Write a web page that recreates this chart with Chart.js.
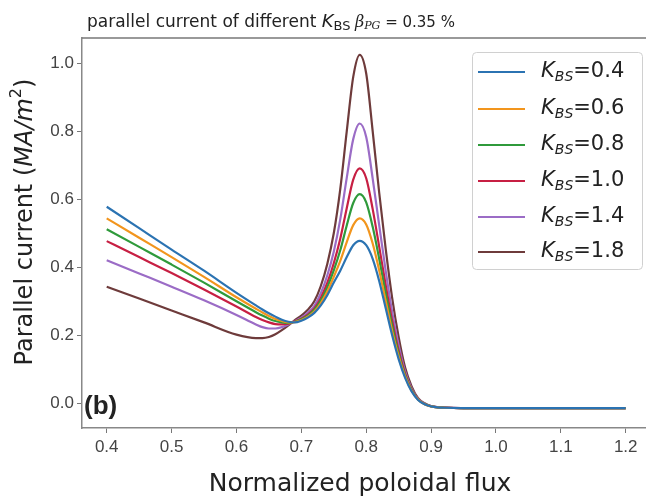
<!DOCTYPE html>
<html lang="en">
<head>
  <meta charset="UTF-8">
  <title>Parallel current of different K_BS</title>
  <script src="https://cdn.jsdelivr.net/npm/chart.js"></script>
  <style>
    body { margin: 0; background: #fff; }
    canvas { display: block; }
  </style>
</head>
<body>
  <canvas id="jparChart" width="646" height="500"></canvas>

  <script>
    // normalized poloidal flux grid
    const psi = [0.40, 0.45, 0.50, 0.55, 0.60, 0.63, 0.64, 0.65, 0.66, 0.67, 0.68,
                 0.69, 0.70, 0.71, 0.72, 0.73, 0.74, 0.75, 0.76, 0.77, 0.78, 0.79,
                 0.80, 0.81, 0.82, 0.83, 0.84, 0.85, 0.86, 0.87, 0.88, 0.89, 0.90,
                 0.91, 0.92, 0.95, 1.00, 1.05, 1.10, 1.15, 1.20];

    const kbsLabels = ['0.4', '0.6', '0.8', '1.0', '1.4', '1.8'];

    // parallel current (MA/m^2)
    const jK04 = [0.578, 0.515, 0.452, 0.390, 0.325, 0.288, 0.276, 0.265, 0.255, 0.246, 0.240,
                  0.238, 0.243, 0.252, 0.266, 0.288, 0.318, 0.355, 0.390, 0.430, 0.465, 0.478,
                  0.465, 0.425, 0.360, 0.280, 0.200, 0.130, 0.075, 0.035, 0.010, -0.003, -0.009,
                  -0.012, -0.013, -0.014, -0.014, -0.014, -0.014, -0.014, -0.014];
    const jK06 = [0.544, 0.487, 0.430, 0.372, 0.312, 0.278, 0.267, 0.257, 0.248, 0.242, 0.238,
                  0.239, 0.245, 0.255, 0.270, 0.295, 0.329, 0.372, 0.419, 0.474, 0.524, 0.544,
                  0.526, 0.470, 0.391, 0.301, 0.213, 0.138, 0.079, 0.037, 0.011, -0.003, -0.009,
                  -0.012, -0.013, -0.014, -0.014, -0.014, -0.014, -0.014, -0.014];
    const jK08 = [0.512, 0.460, 0.408, 0.355, 0.300, 0.268, 0.258, 0.249, 0.242, 0.238, 0.236,
                  0.240, 0.247, 0.258, 0.275, 0.302, 0.341, 0.391, 0.450, 0.523, 0.589, 0.615,
                  0.591, 0.519, 0.425, 0.324, 0.228, 0.146, 0.083, 0.039, 0.011, -0.002, -0.009,
                  -0.012, -0.013, -0.014, -0.014, -0.014, -0.014, -0.014, -0.014];
    const jK10 = [0.477, 0.430, 0.383, 0.335, 0.285, 0.254, 0.245, 0.238, 0.233, 0.232, 0.234,
                  0.241, 0.249, 0.261, 0.279, 0.310, 0.354, 0.412, 0.484, 0.574, 0.658, 0.691,
                  0.662, 0.571, 0.461, 0.348, 0.243, 0.155, 0.087, 0.041, 0.012, -0.002, -0.009,
                  -0.012, -0.013, -0.014, -0.014, -0.014, -0.014, -0.014, -0.014];
    const jK14 = [0.421, 0.382, 0.343, 0.303, 0.260, 0.232, 0.224, 0.220, 0.220, 0.224, 0.232,
                  0.242, 0.252, 0.266, 0.287, 0.324, 0.376, 0.446, 0.541, 0.663, 0.777, 0.823,
                  0.783, 0.661, 0.524, 0.390, 0.269, 0.171, 0.094, 0.044, 0.013, -0.001, -0.008,
                  -0.011, -0.012, -0.014, -0.014, -0.014, -0.014, -0.014, -0.014];
    const jK18 = [0.343, 0.308, 0.273, 0.238, 0.202, 0.192, 0.192, 0.195, 0.203, 0.215, 0.229,
                  0.245, 0.258, 0.275, 0.300, 0.345, 0.410, 0.500, 0.630, 0.800, 0.960, 1.025,
                  0.970, 0.800, 0.620, 0.455, 0.310, 0.195, 0.105, 0.050, 0.015, 0.000, -0.008,
                  -0.011, -0.012, -0.014, -0.014, -0.014, -0.014, -0.014, -0.014];

    const xTicks = [0.4, 0.5, 0.6, 0.7, 0.8, 0.9, 1.0, 1.1, 1.2];
    const yTicks = [0.0, 0.2, 0.4, 0.6, 0.8, 1.0];

    const series = [jK04, jK06, jK08, jK10, jK14, jK18];
    const colors = ['#2b73b2', '#f2951d', '#2f9a3b', '#c71f43', '#9b6cc6', '#6e3b3b'];

    // draws a run of text pieces with their own fonts (sub/superscripts)
    function drawRich(ctx, parts, x, y, align) {
      let total = 0;
      parts.forEach(p => { ctx.font = p.f; p.w = ctx.measureText(p.t).width; total += p.w; });
      let cx = align === 'center' ? x - total / 2 : x;
      parts.forEach(p => {
        ctx.font = p.f;
        ctx.fillText(p.t, cx, y + (p.dy || 0));
        cx += p.w;
      });
    }

    const textPlugin = {
      id: 'figText',
      afterDraw(chart) {
        const ctx = chart.ctx;
        const a = chart.chartArea;
        ctx.save();

        // top spine
        ctx.strokeStyle = '#777';
        ctx.lineWidth = 1.5;
        ctx.beginPath();
        ctx.moveTo(a.left, a.top);
        ctx.lineTo(a.right, a.top);
        ctx.stroke();

        ctx.fillStyle = '#222';
        ctx.textBaseline = 'alphabetic';
        drawRich(ctx, [
          { t: 'parallel current of different ', f: '17px "DejaVu Sans"' },
          { t: 'K', f: 'italic 18px "DejaVu Sans"' },
          { t: 'BS', f: '13px "DejaVu Sans"', dy: 3 },
          { t: ' ', f: '14px "DejaVu Sans"' },
          { t: 'β', f: 'italic 16px "DejaVu Serif"' },
          { t: 'PG', f: 'italic 11px "DejaVu Serif"', dy: 2 },
          { t: ' = 0.35 %', f: '15px "DejaVu Sans"' }
        ], 87, 27, 'left');

        // x axis title
        ctx.textBaseline = 'middle';
        drawRich(ctx, [{ t: 'Normalized poloidal flux', f: '25px "DejaVu Sans"' }], 360, 484, 'center');

        // y axis title
        ctx.save();
        ctx.translate(26, 222);
        ctx.rotate(-Math.PI / 2);
        drawRich(ctx, [
          { t: 'Parallel current (', f: '24px "DejaVu Sans"' },
          { t: 'MA/m', f: 'italic 24px "DejaVu Sans"' },
          { t: '2', f: '16px "DejaVu Sans"', dy: -9 },
          { t: ')', f: '24px "DejaVu Sans"' }
        ], 0, 0, 'center');
        ctx.restore();

        // panel tag
        ctx.font = 'bold 26px "Liberation Sans"';
        ctx.fillText('(b)', 84, 407);

        // legend
        const bx = 472, by = 52, bw = 170, bh = 217;
        ctx.fillStyle = 'rgba(255,255,255,0.85)';
        ctx.strokeStyle = '#d0d0d0';
        ctx.lineWidth = 1;
        ctx.beginPath();
        ctx.roundRect(bx + 0.5, by + 0.5, bw, bh, 4);
        ctx.fill();
        ctx.stroke();
        const rowY = [72, 109, 145, 181, 217, 252];
        kbsLabels.forEach((k, i) => {
          ctx.strokeStyle = colors[i];
          ctx.lineWidth = 2;
          ctx.beginPath();
          ctx.moveTo(478, rowY[i]);
          ctx.lineTo(525, rowY[i]);
          ctx.stroke();
          ctx.fillStyle = '#222';
          drawRich(ctx, [
            { t: 'K', f: 'italic 21px "DejaVu Sans"' },
            { t: 'BS', f: 'italic 14px "DejaVu Sans"', dy: 5 },
            { t: '=' + k, f: '21px "DejaVu Sans"' }
          ], 541, rowY[i], 'left');
        });

        ctx.restore();
      }
    };

    const tickFont = { family: '"Liberation Sans", Arial, sans-serif', size: 17 };

    new Chart(document.getElementById('jparChart').getContext('2d'), {
      type: 'line',
      data: {
        datasets: series.map((ys, i) => ({
          label: 'K_BS=' + kbsLabels[i],
          data: psi.map((x, j) => ({ x: x, y: ys[j] })),
          borderColor: colors[i],
          borderWidth: 2.2,
          pointRadius: 0,
          fill: false,
          cubicInterpolationMode: 'monotone'
        }))
      },
      options: {
        responsive: false,
        animation: false,
        layout: { padding: { top: 38, right: 0, left: 0, bottom: 0 } },
        plugins: {
          legend: { display: false },
          title: { display: false },
          tooltip: { enabled: false }
        },
        scales: {
          x: {
            type: 'linear',
            min: 0.3619,
            max: 1.2313,
            afterBuildTicks: s => { s.ticks = xTicks.map(v => ({ value: v })); },
            afterFit: s => { s.height = 72; },
            ticks: { callback: v => v.toFixed(1), font: tickFont, color: '#444', padding: 4, maxRotation: 0, autoSkip: false },
            grid: { drawOnChartArea: false, drawTicks: true, tickLength: 5, color: '#777' },
            border: { display: true, color: '#888', width: 1.5 }
          },
          y: {
            type: 'linear',
            min: -0.0726,
            max: 1.0744,
            afterBuildTicks: s => { s.ticks = yTicks.map(v => ({ value: v })); },
            afterFit: s => { s.width = 82; },
            ticks: { callback: v => v.toFixed(1), font: tickFont, color: '#444', padding: 3, autoSkip: false },
            grid: { drawOnChartArea: false, drawTicks: true, tickLength: 5, color: '#777' },
            border: { display: true, color: '#888', width: 1.5 }
          }
        }
      },
      plugins: [textPlugin]
    });
  </script>
</body>
</html>
